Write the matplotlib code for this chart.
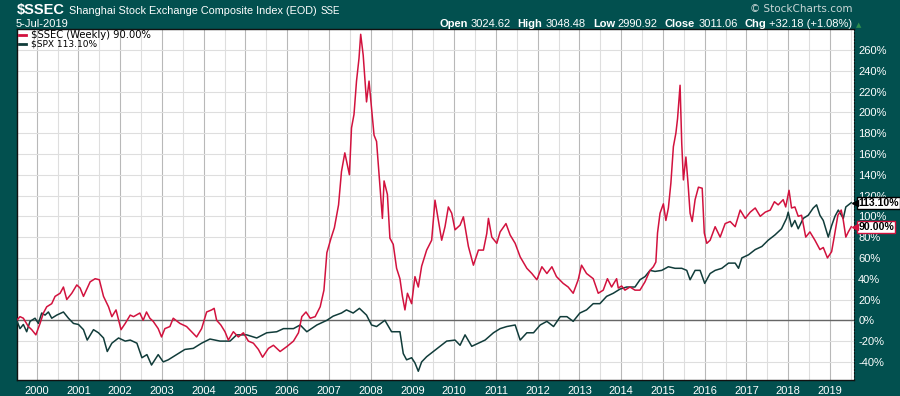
import numpy as np
import matplotlib
matplotlib.use("Agg")
import matplotlib.pyplot as plt
from matplotlib.lines import Line2D

# Weekly % change since mid-1999 (decimal year, %)
ssec_t = [1999.52, 1999.60, 1999.68, 1999.80, 1999.88, 1999.98, 2000.08, 2000.16, 2000.24, 2000.36,
          2000.44, 2000.56, 2000.64, 2000.72, 2000.84, 2000.96, 2001.04, 2001.12, 2001.28, 2001.40,
          2001.50, 2001.60, 2001.72, 2001.80, 2001.90, 2002.02, 2002.12, 2002.24, 2002.32, 2002.47,
          2002.55, 2002.63, 2002.71, 2002.79, 2002.91, 2002.99, 2003.07, 2003.19, 2003.27, 2003.43,
          2003.59, 2003.71, 2003.83, 2003.95, 2004.07, 2004.19, 2004.25, 2004.31, 2004.41, 2004.51,
          2004.59, 2004.71, 2004.83, 2004.95, 2005.07, 2005.19, 2005.31, 2005.41, 2005.55, 2005.67,
          2005.83, 2006.00, 2006.15, 2006.27, 2006.35, 2006.45, 2006.55, 2006.67, 2006.79, 2006.88,
          2006.95, 2007.05, 2007.13, 2007.23, 2007.30, 2007.38, 2007.49, 2007.54, 2007.60, 2007.66,
          2007.72, 2007.76, 2007.82, 2007.90, 2007.96, 2008.02, 2008.08, 2008.14, 2008.22, 2008.28,
          2008.32, 2008.40, 2008.46, 2008.54, 2008.62, 2008.70, 2008.76, 2008.82, 2008.88, 2008.98,
          2009.06, 2009.14, 2009.22, 2009.34, 2009.46, 2009.54, 2009.62, 2009.70, 2009.78, 2009.86,
          2009.94, 2010.02, 2010.14, 2010.22, 2010.34, 2010.46, 2010.58, 2010.70, 2010.78, 2010.82,
          2010.90, 2011.02, 2011.10, 2011.24, 2011.34, 2011.46, 2011.58, 2011.74, 2011.86, 2011.98,
          2012.10, 2012.22, 2012.34, 2012.45, 2012.61, 2012.73, 2012.85, 2012.97, 2013.05, 2013.17,
          2013.33, 2013.45, 2013.57, 2013.67, 2013.77, 2013.89, 2013.93, 2014.01, 2014.09, 2014.21,
          2014.33, 2014.45, 2014.57, 2014.69, 2014.77, 2014.83, 2014.87, 2014.93, 2015.01, 2015.07,
          2015.13, 2015.19, 2015.25, 2015.31, 2015.35, 2015.41, 2015.45, 2015.49, 2015.55, 2015.60,
          2015.65, 2015.70, 2015.77, 2015.85, 2015.94, 2015.99, 2016.05, 2016.13, 2016.25, 2016.37,
          2016.49, 2016.61, 2016.73, 2016.85, 2016.97, 2017.09, 2017.21, 2017.33, 2017.45, 2017.57,
          2017.67, 2017.76, 2017.88, 2017.94, 2018.02, 2018.08, 2018.16, 2018.24, 2018.32, 2018.42,
          2018.52, 2018.64, 2018.76, 2018.84, 2018.94, 2019.04, 2019.11, 2019.19, 2019.27, 2019.32,
          2019.38, 2019.44, 2019.51]
ssec_v = [0, 3.5, 2, -6, -9, -14, -3, 7, 13, 16,
          23, 26, 32, 20, 26, 34, 31, 23, 37, 40,
          39, 23, 13, 3.5, 10, -9, -3, 5, 3.5, 7,
          0, 8, 2, -1, -8, -16, -8, -6, 2, -3,
          -6, -11, -16, -8, 8, 10, 11.5, 0, -4.5, -11,
          -19, -11, -16, -12, -20, -22, -28, -35.5, -27, -24,
          -30, -25, -20, -12, 3.5, 8, 2, 3.5, 13, 29,
          65, 79, 89, 111, 143, 161, 140, 185, 198, 230,
          252, 275, 255, 210, 230, 204, 178, 172, 130, 98,
          134, 121, 79, 73, 50, 40, 23, 10, 26, 16,
          42, 32, 52, 67.5, 77, 115.5, 96, 77, 90, 109,
          103, 87, 91.5, 99.5, 71, 53, 67.5, 67.5, 83.5, 98,
          80, 74, 85, 93, 82, 74, 61, 50, 45, 39,
          51.5, 45, 51.5, 42, 35.5, 32, 26, 39, 53, 45,
          40, 26, 29, 40, 32, 40, 31, 33, 29, 32,
          29, 29, 37, 48, 51.5, 56, 84, 103, 112, 96,
          108, 132, 167, 180, 194, 226, 170, 135, 157, 132,
          103, 95, 116, 128, 127, 84, 74, 77, 90, 80,
          93, 95, 90, 106, 98, 104, 108, 100, 104, 106,
          114, 111, 116, 109, 125, 108, 109, 100, 101, 80,
          85, 77, 68, 70, 60, 66, 82, 101, 106, 96,
          80, 85, 90]

spx_t = [1999.52, 1999.60, 1999.68, 1999.76, 1999.84, 1999.96, 2000.04, 2000.12, 2000.20, 2000.28,
         2000.36, 2000.48, 2000.64, 2000.76, 2000.88, 2001.00, 2001.12, 2001.21, 2001.36, 2001.48,
         2001.60, 2001.69, 2001.80, 2001.96, 2002.12, 2002.24, 2002.40, 2002.52, 2002.64, 2002.75,
         2002.91, 2003.03, 2003.15, 2003.35, 2003.55, 2003.75, 2003.95, 2004.15, 2004.39, 2004.63,
         2004.79, 2005.03, 2005.27, 2005.51, 2005.75, 2005.91, 2006.15, 2006.31, 2006.47, 2006.71,
         2006.95, 2007.10, 2007.30, 2007.42, 2007.58, 2007.73, 2007.90, 2008.02, 2008.14, 2008.34,
         2008.50, 2008.70, 2008.78, 2008.86, 2008.98, 2009.06, 2009.14, 2009.22, 2009.34, 2009.50,
         2009.66, 2009.82, 2010.02, 2010.14, 2010.26, 2010.42, 2010.58, 2010.74, 2010.94, 2011.10,
         2011.26, 2011.46, 2011.58, 2011.74, 2011.90, 2012.06, 2012.22, 2012.38, 2012.54, 2012.70,
         2012.85, 2013.01, 2013.17, 2013.33, 2013.49, 2013.65, 2013.81, 2013.97, 2014.13, 2014.33,
         2014.45, 2014.57, 2014.69, 2014.81, 2014.97, 2015.13, 2015.29, 2015.45, 2015.57, 2015.65,
         2015.77, 2015.89, 2016.00, 2016.13, 2016.25, 2016.41, 2016.57, 2016.73, 2016.81, 2016.89,
         2017.05, 2017.21, 2017.37, 2017.52, 2017.68, 2017.84, 2017.96, 2018.00, 2018.08, 2018.16,
         2018.24, 2018.36, 2018.48, 2018.60, 2018.68, 2018.76, 2018.84, 2018.90, 2018.96, 2019.04,
         2019.12, 2019.20, 2019.32, 2019.38, 2019.51]
spx_v = [0, -8, -4, -11, -1, 2, -3, 7, 5, 8,
         2, 5, 8, 2, -3, -4, -9, -19, -9, -12,
         -17, -30, -22, -17, -20, -19, -22, -36, -33, -43,
         -33, -40, -38, -33, -28, -27, -22, -18, -20, -20,
         -14, -14, -17, -12, -11, -8, -8, -4.5, -11, -4.5,
         0, 4, 7, 10, 7, 11.5, 5, -4.5, -6, 0,
         -11, -11, -32, -38, -36, -41, -49, -40, -35, -30,
         -25, -20, -19, -24, -14, -25, -22, -19, -12, -8,
         -6, -4.5, -19, -12, -12, -4.5, -1, -6, 3.5, 3.5,
         -1, 7, 10, 16, 16, 23, 26, 30, 32, 32,
         39, 42, 48, 47, 48, 51.5, 50, 50, 48, 39,
         48, 48, 35.5, 45, 48, 50, 55, 55, 50, 60,
         63, 68, 71, 77, 82, 88, 98, 104, 90, 96,
         88, 98, 101, 108, 111, 101, 96, 88, 80, 91,
         100, 106, 98, 109, 113.1]

ssec_last = 90.00
spx_last = 113.10
years = list(range(2000, 2020))
pct_ticks = list(range(-40, 261, 20))
quote_keys = ["Open", "High", "Low", "Close", "Chg"]
quote_vals = ["3024.62", "3048.48", "2990.92", "3011.06", "+32.18 (+1.08%)"]

BG = "#02504f"
RED = "#d2123e"
DARK = "#113c3a"
W, H = 900, 396
SANS = "Liberation Sans"

fig = plt.figure(figsize=(W / 100, H / 100), dpi=100, facecolor=BG)
ax = fig.add_axes([17 / W, 1 - 380 / H, (854 - 17) / W, (380 - 29) / H])
ax.set_facecolor("white")

# grid: year lines darker, half-year lighter
ax.set_xticks(years)
ax.set_xticks([y + 0.5 for y in range(1999, 2020)], minor=True)
ax.set_yticks(pct_ticks)
ax.grid(which="major", axis="x", color="#b8b8b8", lw=0.8)
ax.grid(which="minor", axis="x", color="#dedede", lw=0.8)
ax.grid(which="major", axis="y", color="#dedede", lw=0.8)
ax.set_axisbelow(True)
ax.axhline(0, color="#666666", lw=1.0, zorder=1)

ax.plot(spx_t, spx_v, color=DARK, lw=1.1, zorder=3)
ax.plot(ssec_t, ssec_v, color=RED, lw=1.1, zorder=4)

ax.set_xlim(1999.528, 2019.576)
ax.set_ylim(-57.4, 280.1)

ax.set_xticklabels([str(y) for y in years])
ax.set_yticklabels([f"{v}%" for v in pct_ticks])
ax.yaxis.tick_right()
ax.tick_params(axis="both", which="both", length=0, colors="white", labelsize=8)
ax.tick_params(axis="x", pad=4)
ax.tick_params(axis="y", pad=3)
for lab in ax.get_xticklabels() + ax.get_yticklabels():
    lab.set_family(SANS)
for side in ["left", "top", "bottom"]:
    ax.spines[side].set_color("#111111")
    ax.spines[side].set_linewidth(1.0)
ax.spines["right"].set_color("#111111")
ax.spines["right"].set_linestyle((0, (1, 2)))

# last-value tags on the right
for val, edge in [(spx_last, "black"), (ssec_last, RED)]:
    ax.annotate(f"{val:.2f}%", xy=(1.0, val), xycoords=("axes fraction", "data"),
                xytext=(3, 0), textcoords="offset points", ha="left", va="center",
                fontsize=7.6, fontweight="bold", family=SANS, color="black", zorder=10,
                bbox=dict(boxstyle="square,pad=0.1", fc="white", ec=edge, lw=1.0),
                annotation_clip=False)
    ax.plot([1.0015], [val], marker="<", ms=4, color=edge, transform=ax.get_yaxis_transform(),
            clip_on=False, zorder=11)

# legend, top-left inside plot
fig.add_artist(Line2D([19 / W, 26 / W], [1 - 35 / H] * 2, color=RED, lw=2))
fig.text(31 / W, 1 - 35 / H, f"$SSEC (Weekly) {ssec_last:.2f}%", fontsize=7.2,
         family="DejaVu Sans", va="center", color="black")
fig.add_artist(Line2D([19 / W, 26 / W], [1 - 44 / H] * 2, color=DARK, lw=2))
fig.text(31 / W, 1 - 44 / H, f"$SPX {spx_last:.2f}%", fontsize=6.5,
         family="DejaVu Sans", va="center", color="black")

# header
fig.canvas.draw()
renderer = fig.canvas.get_renderer()


def put_runs(x_px, y_px, runs):
    x = x_px
    for txt, kw, gap in runs:
        t = fig.text(x / W, 1 - y_px / H, txt, va="baseline", ha="left", color="white",
                     family=SANS, **kw)
        x = t.get_window_extent(renderer).x1 + gap
    return x


put_runs(17, 14, [("$SSEC", dict(fontsize=10.5, fontweight="bold"), 4),
                  ("Shanghai Stock Exchange Composite Index (EOD)", dict(fontsize=7.8), 4),
                  ("SSE", dict(fontsize=7), 0)])
fig.text(16 / W, 1 - 27 / H, "5-Jul-2019", fontsize=8, family=SANS, color="white", va="baseline")

runs = []
for k, v in zip(quote_keys, quote_vals):
    runs.append((k, dict(fontsize=8, fontweight="bold"), 3))
    runs.append((v, dict(fontsize=8), 7))
xend = put_runs(439, 27, runs)
fig.text((xend - 3) / W, 1 - 25 / H, "\u25b2", fontsize=5, family="DejaVu Sans",
         color="#2f8f4e", va="center", ha="left")
fig.text(853 / W, 1 - 9 / H, "\u00a9 StockCharts.com", fontsize=7.5, family="DejaVu Sans",
         color="#c9d6d6", va="center", ha="right")

fig.savefig("out.png", dpi=100, facecolor=BG)
